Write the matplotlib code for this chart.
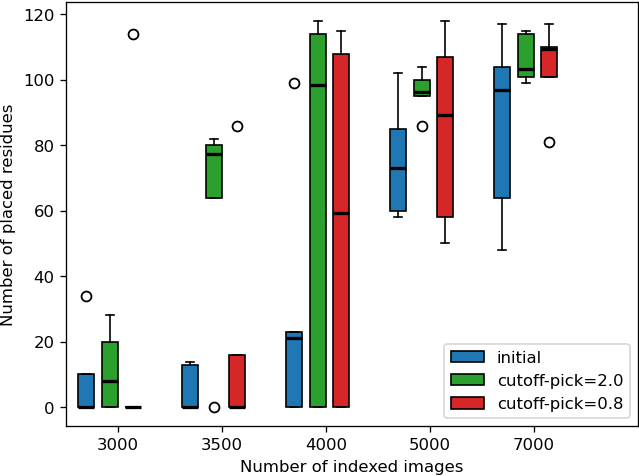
import matplotlib
matplotlib.use("Agg")
import matplotlib.pyplot as plt
from matplotlib.patches import Patch
import numpy as np

# ----------------------------
# Data
# ----------------------------
categories = ["3000", "3500", "4000", "5000", "7000"]
series = ["initial", "cutoff-pick=2.0", "cutoff-pick=0.8"]
colors = ["#1f77b4", "#2ca02c", "#d62728"]

# per series: one value per category
initial_whislo = [0, 0, 0, 58, 48]
initial_q1 = [0, 0, 0, 60, 64]
initial_med = [0, 0, 21, 73, 97]
initial_q3 = [10, 13, 23, 85, 104]
initial_whishi = [10, 13.7, 23, 102, 117]
initial_fliers = [[34], [], [99], [], []]

pick20_whislo = [0, 64, 0, 95, 99]
pick20_q1 = [0, 64, 0, 95, 101]
pick20_med = [8, 77.3, 98.3, 96.3, 103.3]
pick20_q3 = [20, 80, 114, 100, 114]
pick20_whishi = [28, 82, 118, 104, 115]
pick20_fliers = [[], [0], [], [86], []]

pick08_whislo = [0, 0, 0, 50, 101]
pick08_q1 = [0, 0, 0, 58, 101]
pick08_med = [0, 0, 59.4, 89.2, 109.4]
pick08_q3 = [0, 16, 108, 107, 110]
pick08_whishi = [0, 16, 115, 118, 117]
pick08_fliers = [[114], [86], [], [], [81]]

all_stats = [
    (initial_whislo, initial_q1, initial_med, initial_q3, initial_whishi, initial_fliers),
    (pick20_whislo, pick20_q1, pick20_med, pick20_q3, pick20_whishi, pick20_fliers),
    (pick08_whislo, pick08_q1, pick08_med, pick08_q3, pick08_whishi, pick08_fliers),
]

# ----------------------------
# Plot
# ----------------------------
fig = plt.figure(figsize=(5.4, 4.02), dpi=118.5)
ax = fig.add_axes([0.103, 0.104, 0.894, 0.892])

x = np.arange(1, len(categories) + 1)
offsets = [-0.305, -0.075, 0.145]
width = 0.155

for j, (lo, q1, med, q3, hi, fl) in enumerate(all_stats):
    stats = []
    for i in range(len(categories)):
        stats.append(dict(whislo=lo[i], q1=q1[i], med=med[i], q3=q3[i],
                          whishi=hi[i], fliers=fl[i]))
    ax.bxp(stats, positions=x + offsets[j], widths=width, patch_artist=True,
           manage_ticks=False,
           boxprops=dict(facecolor=colors[j], edgecolor="black", linewidth=1),
           medianprops=dict(color="black", linewidth=2),
           whiskerprops=dict(color="black", linewidth=1),
           capprops=dict(color="black", linewidth=1),
           flierprops=dict(marker="o", markerfacecolor="none",
                           markeredgecolor="black", markersize=6,
                           markeredgewidth=1.1))

ax.set_xticks(x)
ax.set_xticklabels(categories)
ax.set_xlim(0.5, 6.0)
ax.set_ylim(-5.9, 123.9)
ax.set_xlabel("Number of indexed images")
ax.set_ylabel("Number of placed residues")

handles = [Patch(facecolor=c, edgecolor="black", label=s) for c, s in zip(colors, series)]
ax.legend(handles=handles, loc="lower right")

fig.savefig("out.png", format="png")
